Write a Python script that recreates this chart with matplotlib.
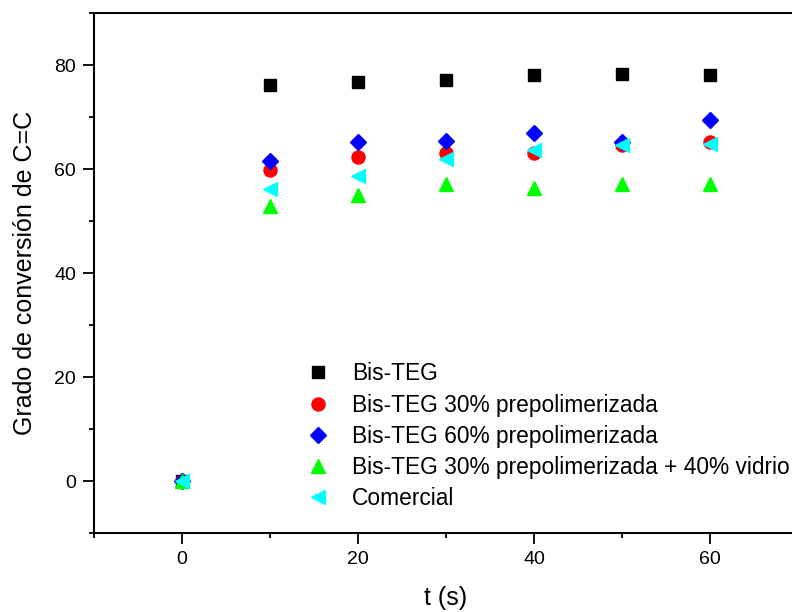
import numpy as np
import matplotlib
matplotlib.use('Agg')
import matplotlib.pyplot as plt
from matplotlib.ticker import MultipleLocator

plt.rcParams['font.family'] = ['Liberation Sans', 'DejaVu Sans']

t = [0, 10, 20, 30, 40, 50, 60]

bis_teg = [0, 76.2, 76.7, 77.2, 78.1, 78.2, 78.1]
bis_teg_30 = [0, 59.9, 62.4, 63.0, 63.1, 64.6, 65.1]
bis_teg_60 = [0, 61.6, 65.2, 65.3, 66.9, 65.1, 69.4]
bis_teg_30_vidrio = [0, 52.8, 55.0, 57.1, 56.3, 57.2, 57.2]
comercial = [0, 56.1, 58.7, 62.0, 63.7, 64.6, 64.8]

labels = ['Bis-TEG',
          'Bis-TEG 30% prepolimerizada',
          'Bis-TEG 60% prepolimerizada',
          'Bis-TEG 30% prepolimerizada + 40% vidrio',
          'Comercial']

fig = plt.figure(figsize=(7.92, 6.12), dpi=100)
ax = fig.add_axes([94/792, 79/612, 704/792, 520/612])

# series drawn in order, last one on top
ax.plot(t, bis_teg, 's', color='black', ms=8.6, label=labels[0])
ax.plot(t, bis_teg_30, 'o', color='red', ms=9.4, label=labels[1])
ax.plot(t, bis_teg_60, 'D', color='blue', ms=8.0, label=labels[2])
ax.plot(t, bis_teg_30_vidrio, '^', color='#00ff00', ms=10.5, label=labels[3])
ax.plot(t, comercial, '<', color='cyan', ms=10.5, label=labels[4])

ax.set_xlim(-10, 70)
ax.set_ylim(-10, 90)
ax.xaxis.set_major_locator(MultipleLocator(20))
ax.xaxis.set_minor_locator(MultipleLocator(10))
ax.yaxis.set_major_locator(MultipleLocator(20))
ax.yaxis.set_minor_locator(MultipleLocator(10))
ax.tick_params(which='major', direction='out', length=8, width=1.3, labelsize=14, pad=5)
ax.tick_params(which='minor', direction='out', length=3.5, width=1.3)
ax.tick_params(top=False, right=False, which='both')

for s in ['left', 'bottom', 'top']:
    ax.spines[s].set_linewidth(1.5)
ax.spines['right'].set_visible(False)

ax.set_xlabel('t (s)', fontsize=18, labelpad=13)
ax.set_ylabel('Grado de conversión de C=C', fontsize=18, labelpad=12)

ax.legend(loc='upper left', bbox_to_anchor=(0.3026, 0.328), frameon=False,
          fontsize=16.4, numpoints=1, handlelength=1.0, handletextpad=0.99,
          labelspacing=0.36, borderpad=0, borderaxespad=0)

fig.savefig('out.png', dpi=100)
